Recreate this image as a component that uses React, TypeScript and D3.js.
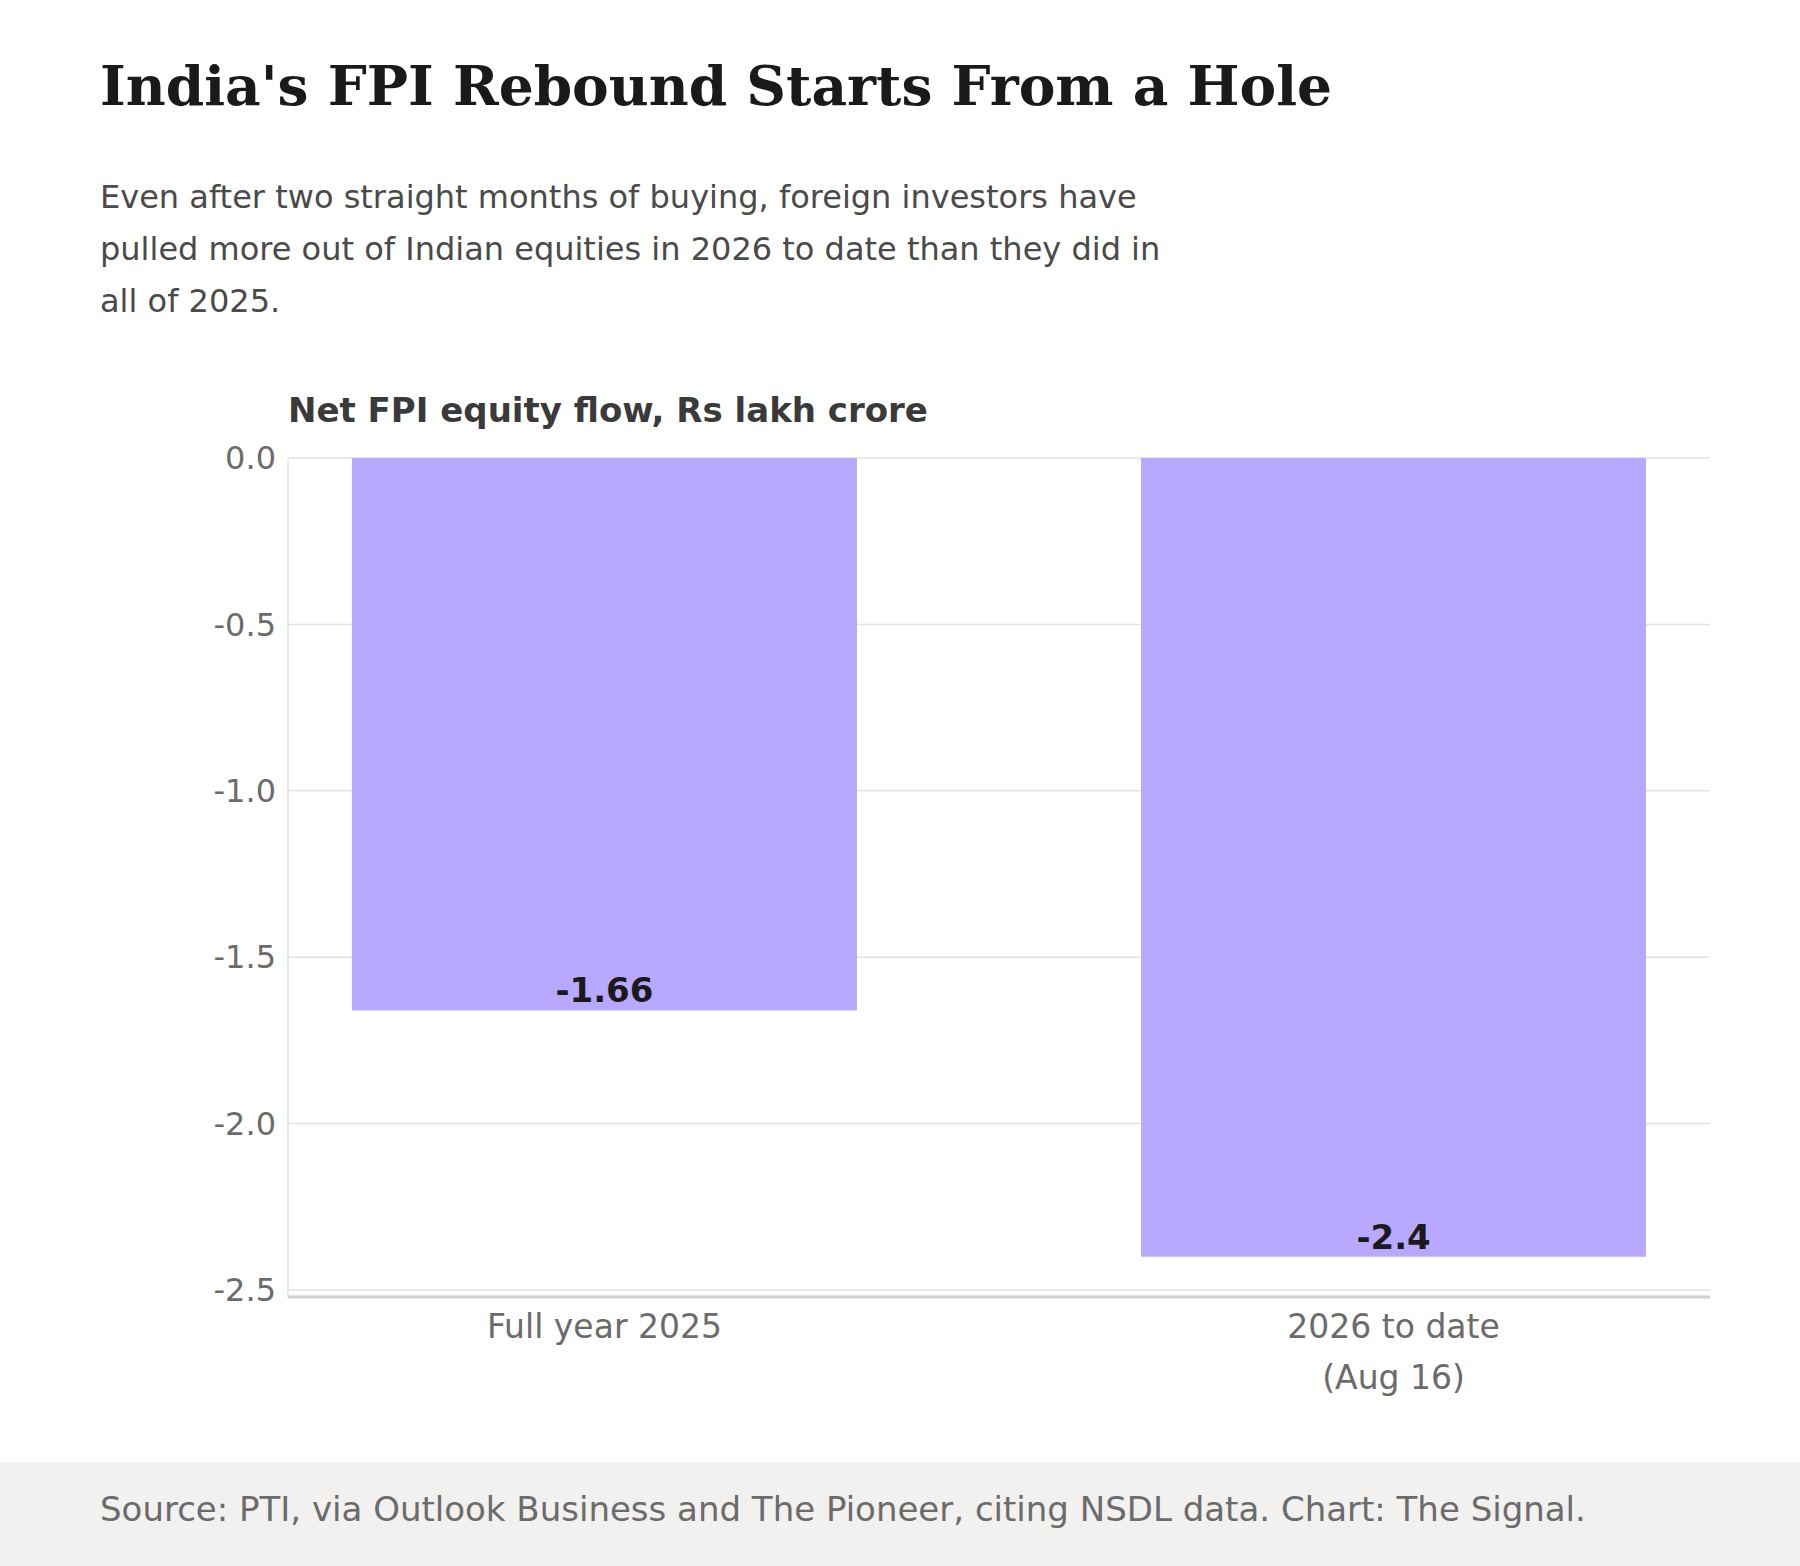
import React from "react";
import * as d3 from "d3";

const categories = ["Full year 2025", "2026 to date\n(Aug 16)"];
const values = [-1.66, -2.4];
const valueLabels = ["-1.66", "-2.4"];
const yTicks = [0, -0.5, -1, -1.5, -2, -2.5];

export default function App() {
  const W = 1800, H = 1566;
  const left = 288, right = 1710, top = 458, bottom = 1290;
  const x = d3.scaleBand().domain(categories).range([left, right]).paddingInner(0.36).paddingOuter(0.081);
  const y = d3.scaleLinear().domain([0, -2.5]).range([top, bottom]);
  const sans = "'DejaVu Sans', sans-serif";
  return (
    <svg width={W} height={H} style={{ position: "absolute", left: 0, top: 0, background: "#fff" }} fontFamily={sans}>
      <rect width={W} height={H} fill="#fff" />
      <text x={100} y={105} fontFamily="'DejaVu Serif', serif" fontWeight="bold" fontSize={55} fill="#1a1a1a">India's FPI Rebound Starts From a Hole</text>
      {["Even after two straight months of buying, foreign investors have",
        "pulled more out of Indian equities in 2026 to date than they did in",
        "all of 2025."].map((l, i) => (
        <text key={i} x={100} y={208 + i * 52} fontSize={32} fill="#4a4a4a">{l}</text>
      ))}
      <text x={288} y={422} fontSize={34} fontWeight="bold" fill="#3a3a3a">Net FPI equity flow, Rs lakh crore</text>
      {yTicks.map(t => (
        <g key={t}>
          <line x1={left} x2={right} y1={y(t)} y2={y(t)} stroke="#e3e3e3" strokeWidth={1.5} />
          <text x={276} y={y(t)} dy="0.35em" textAnchor="end" fontSize={32} fill="#6b6b6b">{t.toFixed(1)}</text>
        </g>
      ))}
      <line x1={left} x2={left} y1={top} y2={1298} stroke="#e3e3e3" strokeWidth={1.5} />
      {categories.map((c, i) => (
        <g key={c}>
          <rect x={x(c)} y={y(0)} width={x.bandwidth()} height={y(values[i]) - y(0)} fill="#b8a8ff" />
          <text x={x(c)! + x.bandwidth() / 2} y={y(values[i]) - 8} textAnchor="middle" fontSize={34} fontWeight="bold" fill="#1a1a1a">{valueLabels[i]}</text>
          {c.split("\n").map((l, j) => (
            <text key={j} x={x(c)! + x.bandwidth() / 2} y={1338 + j * 51} textAnchor="middle" fontSize={33} fill="#6b6b6b">{l}</text>
          ))}
        </g>
      ))}
      <line x1={left} x2={right} y1={1297} y2={1297} stroke="#d0d0d0" strokeWidth={3} />
      <rect x={0} y={1462} width={W} height={H - 1462} fill="#f2f1f0" />
      <text x={100} y={1521} fontSize={34} fill="#6b6b6b">Source: PTI, via Outlook Business and The Pioneer, citing NSDL data. Chart: The Signal.</text>
    </svg>
  );
}
